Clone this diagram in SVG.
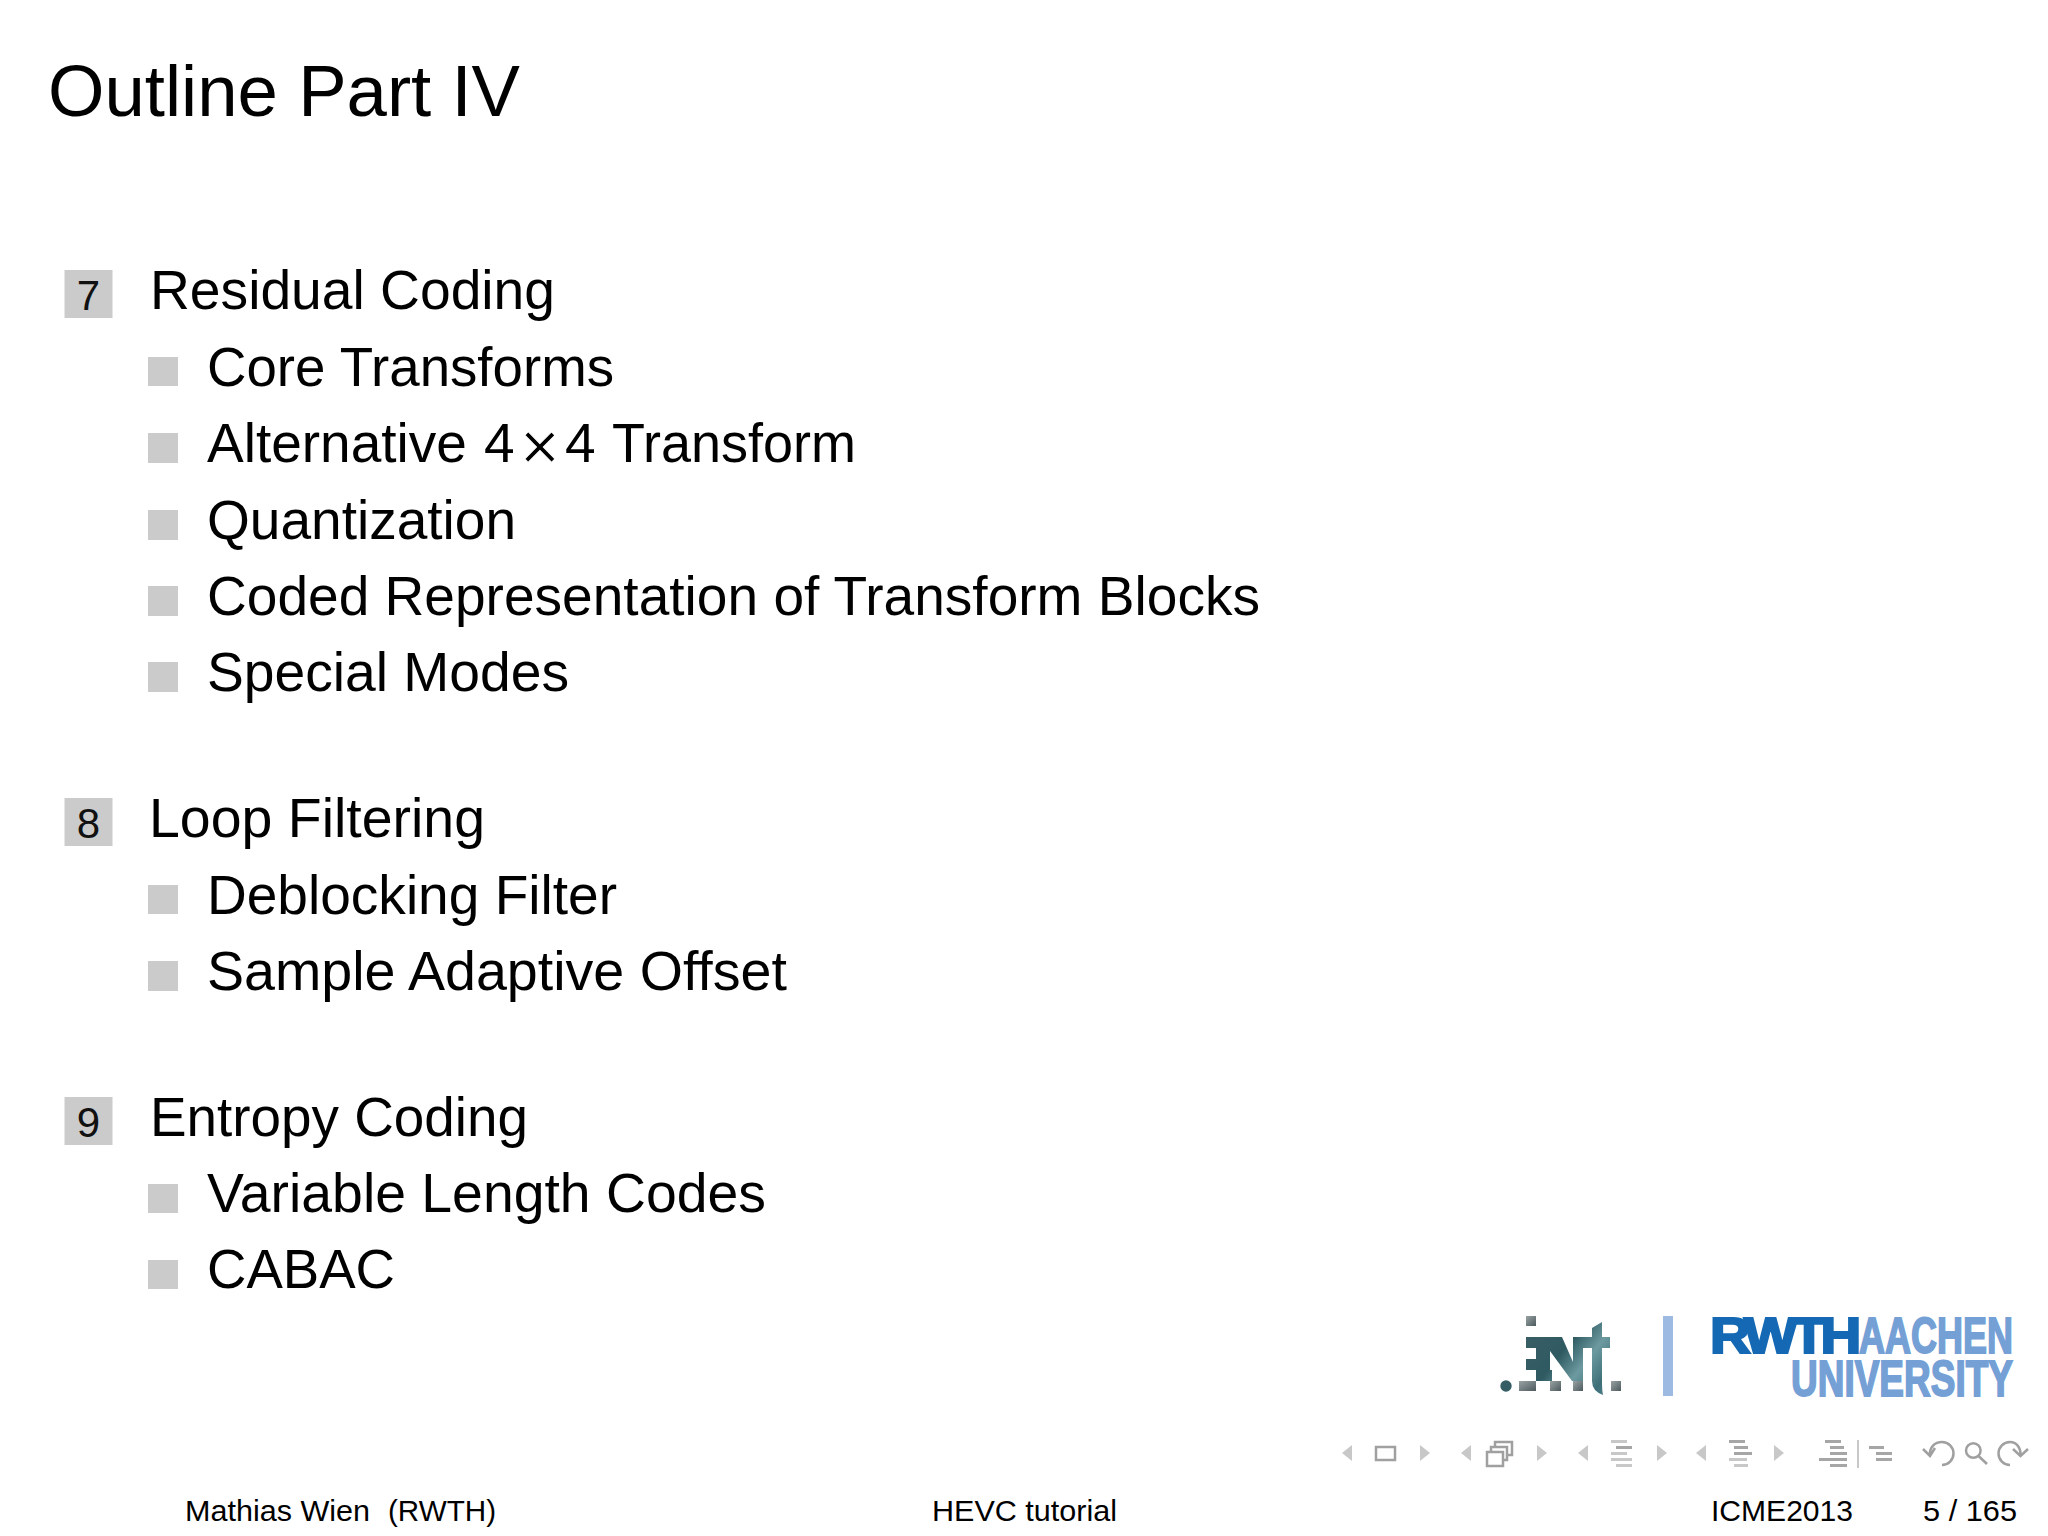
<svg xmlns="http://www.w3.org/2000/svg" width="2048" height="1536" viewBox="0 0 2048 1536">
<style>
text{font-family:"Liberation Sans",Arial,sans-serif;fill:#000}
.t{font-size:72px}
.s{font-size:55px}
.n{font-size:42px;text-anchor:middle;fill:#111}
.f{font-size:30px}
.box,.b{fill:#cbcbcb}
.nl{fill:#c8c8c8}
.nd{fill:#a6a6a6}
.ns{fill:none;stroke:#a0a0a0;stroke-width:2.5}
.lg{font-weight:bold;font-size:50px}
text.dk{fill:#1569b4;stroke:#1569b4;stroke-width:2.2}
text.lt{fill:#74a0d6;stroke:#74a0d6;stroke-width:1.8}
.ent{fill:url(#ent)}
.sq{fill:url(#sq)}
</style>
<defs>
<linearGradient id="ent" gradientUnits="userSpaceOnUse" x1="1525" y1="1320" x2="1622" y2="1395">
<stop offset="0" stop-color="#3c5f66"/><stop offset="0.4" stop-color="#2f5a62"/><stop offset="0.6" stop-color="#6c9aa0"/><stop offset="0.8" stop-color="#3e6f78"/><stop offset="1" stop-color="#5f8f98"/>
</linearGradient>
<linearGradient id="sq" x1="0" y1="0" x2="1" y2="1">
<stop offset="0" stop-color="#9aa3a4"/><stop offset="1" stop-color="#4c5a5e"/>
</linearGradient>
</defs>
<rect width="2048" height="1536" fill="#fff"/>
<text id="title" class="t" x="48" y="116" textLength="472" lengthAdjust="spacingAndGlyphs">Outline Part IV</text>

<g id="section-7">
<rect class="box" x="64.5" y="270" width="48" height="48"/><text class="n" x="88.5" y="310">7</text>
<text class="s" x="150" y="309" textLength="405" lengthAdjust="spacingAndGlyphs">Residual Coding</text>
</g>
<g id="items-7">
<rect class="b" x="148" y="357" width="30" height="29"/><text class="s" x="207" y="386" textLength="407" lengthAdjust="spacingAndGlyphs">Core Transforms</text>
<rect class="b" x="148" y="433" width="30" height="30"/><text class="s" x="207" y="462">Alternative</text>
<text class="s" x="484" y="462">4</text>
<text x="520" y="470" font-size="68" stroke="#fff" stroke-width="1">×</text>
<text class="s" x="565" y="462">4</text>
<text class="s" x="612" y="462" textLength="244" lengthAdjust="spacingAndGlyphs">Transform</text>
<rect class="b" x="148" y="510" width="30" height="30"/><text class="s" x="207" y="539" textLength="309" lengthAdjust="spacingAndGlyphs">Quantization</text>
<rect class="b" x="148" y="586" width="30" height="30"/><text class="s" x="207" y="615" textLength="1053" lengthAdjust="spacingAndGlyphs">Coded Representation of Transform Blocks</text>
<rect class="b" x="148" y="662" width="30" height="30"/><text class="s" x="207" y="691" textLength="362" lengthAdjust="spacingAndGlyphs">Special Modes</text>
</g>

<g id="section-8">
<rect class="box" x="64.5" y="798" width="48" height="48"/><text class="n" x="88.5" y="838">8</text>
<text class="s" x="149" y="837" textLength="336" lengthAdjust="spacingAndGlyphs">Loop Filtering</text>
<rect class="b" x="148" y="885" width="30" height="29"/><text class="s" x="207" y="914" textLength="410" lengthAdjust="spacingAndGlyphs">Deblocking Filter</text>
<rect class="b" x="148" y="961" width="30" height="30"/><text class="s" x="207" y="990" textLength="580" lengthAdjust="spacingAndGlyphs">Sample Adaptive Offset</text>
</g>

<g id="section-9">
<rect class="box" x="64.5" y="1097" width="48" height="48"/><text class="n" x="88.5" y="1137">9</text>
<text class="s" x="150" y="1136" textLength="378" lengthAdjust="spacingAndGlyphs">Entropy Coding</text>
<rect class="b" x="148" y="1184" width="30" height="29"/><text class="s" x="207" y="1212" textLength="559" lengthAdjust="spacingAndGlyphs">Variable Length Codes</text>
<rect class="b" x="148" y="1260" width="30" height="29"/><text class="s" x="207" y="1288" textLength="188" lengthAdjust="spacingAndGlyphs">CABAC</text>
</g>

<g id="logo-ient">
<circle class="ent" cx="1506" cy="1386" r="5.7"/>
<rect class="sq" x="1526" y="1316" width="10" height="10"/>
<rect class="sq" x="1519" y="1381" width="17" height="10"/>
<rect class="sq" x="1550" y="1381" width="11" height="10"/>
<rect class="sq" x="1573" y="1381" width="10" height="10"/>
<rect class="sq" x="1611" y="1381" width="10" height="10"/>
<path class="ent" d="M1526 1337h36l11 25v-25h37v11h-27v33h-11l-22-30v8h-14v-11h-10zM1526 1359h24v11h2v11h-16v-11h-10z"/>
<path class="ent" d="M1592 1328l10-6v62q0 6 1 11q-11-4-11-14z"/>
</g>
<g id="logo-rwth">
<rect x="1663" y="1316" width="10" height="80" fill="#9dbae2"/>
<text class="lg dk" transform="translate(1710 1353) scale(1.13 1)" letter-spacing="-5">RWTH</text>
<text class="lg lt" transform="translate(1859 1353) scale(0.72 1)">AACHEN</text>
<text class="lg lt" transform="translate(1791 1395.5) scale(0.74 1)">UNIVERSITY</text>
</g>

<g id="nav">
<path class="nl" d="M1352 1445v16l-10-8z"/>
<rect class="ns" x="1376" y="1447" width="19" height="13"/>
<path class="nl" d="M1420 1445v16l10-8z"/>
<path class="nl" d="M1471 1445v16l-10-8z"/>
<path class="ns" d="M1487 1452h16v14h-16zM1491 1452v-5h16v13h-4M1495 1447v-5h17v13h-5"/>
<path class="nl" d="M1537 1445v16l10-8z"/>
<path class="nl" d="M1588 1445v16l-10-8z"/>
<path class="nl" d="M1611 1440h16v3h-16zM1611 1452h16v3h-16zM1611 1458h21v3h-21zM1616 1464h16v3h-16z"/><path class="nd" d="M1616 1446h16v3h-16z"/>
<path class="nl" d="M1657 1445v16l10-8z"/>
<path class="nl" d="M1706 1445v16l-10-8z"/>
<path class="nd" d="M1729 1440h16v3h-16zM1734 1446h14v3h-14zM1734 1452h18v3h-18z"/><path class="nl" d="M1729 1458h18v3h-18zM1734 1464h14v3h-14z"/>
<path class="nl" d="M1774 1445v16l10-8z"/>
<path class="nd" d="M1825 1440h16v3h-16zM1830 1446h14v3h-14zM1830 1452h17v3h-17zM1819 1458h28v3h-28zM1830 1464h17v3h-17z"/>
<rect class="nl" x="1857" y="1440" width="2" height="28"/>
<path class="nd" d="M1869 1446h15v3h-15zM1876 1452h16v3h-16zM1876 1458h16v3h-16z"/>
<path class="ns" d="M1930 1456C1929 1447 1935 1442 1942 1442A11.5 11.5 0 0 1 1942 1465M1923 1449l7 7 5-8"/>
<circle class="ns" cx="1973.3" cy="1450.5" r="7.3"/><path class="ns" d="M1978.5 1456l8.5 8" stroke-width="3"/>
<path class="ns" d="M2020.5 1456C2021 1447 2016 1442 2010 1442A11.5 11.5 0 0 0 2010 1465M2013 1449l7.5 7 7.5-7"/>
</g>

<g id="footer">
<text class="f" x="185" y="1521" textLength="185" lengthAdjust="spacingAndGlyphs">Mathias Wien</text>
<text class="f" x="388" y="1521" textLength="108" lengthAdjust="spacingAndGlyphs">(RWTH)</text>
<text class="f" x="932" y="1521" textLength="185" lengthAdjust="spacingAndGlyphs">HEVC tutorial</text>
<text class="f" x="1711" y="1521" textLength="142" lengthAdjust="spacingAndGlyphs">ICME2013</text>
<text class="f" x="1923" y="1521" textLength="94" lengthAdjust="spacingAndGlyphs">5 / 165</text>
</g>
</svg>
